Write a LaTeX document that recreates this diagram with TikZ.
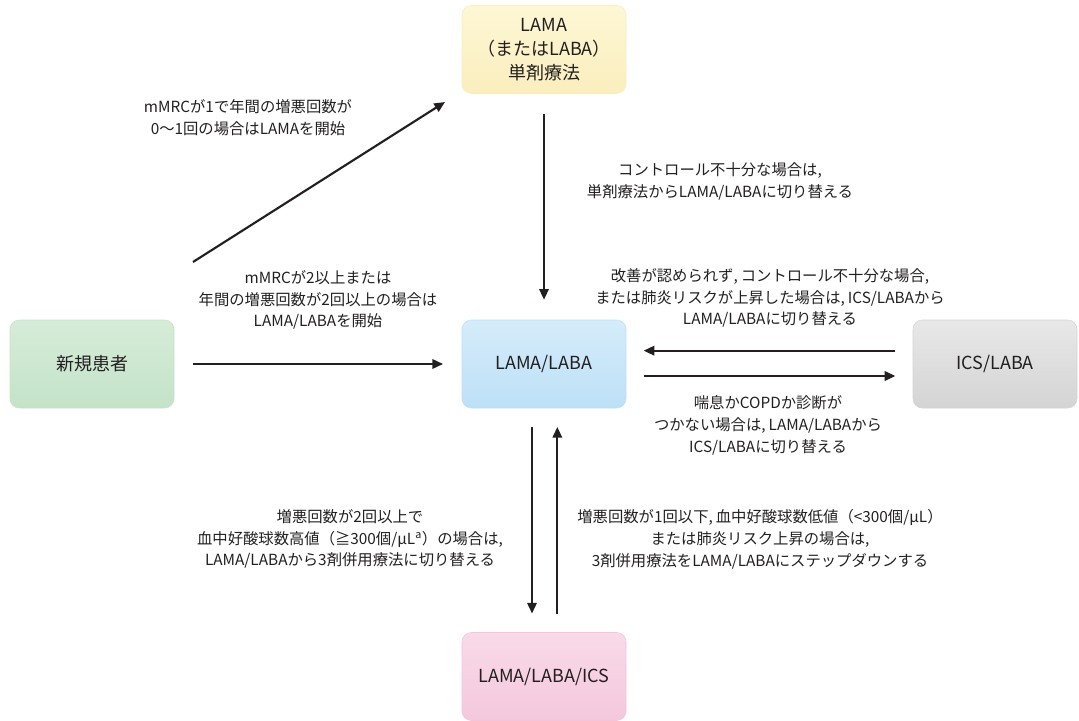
\documentclass[tikz,border=0pt]{standalone}
\usepackage{fontspec}
\setmainfont{Noto Sans CJK JP}
\usetikzlibrary{arrows.meta}
\definecolor{ink}{HTML}{231F20}
\newcommand{\cm}{,\hspace{0.2em}}
\tikzset{
  box/.style={rounded corners=7pt, minimum width=123pt, minimum height=66pt, inner sep=0pt, align=center, font=\fontsize{13.5}{18}\selectfont, text=ink},
  lbl/.style={align=center, font=\fontsize{11.5}{16.4}\selectfont, text=ink, inner sep=0pt},
  arr/.style={-{Triangle[length=8pt,width=7pt]}, line width=1.6pt, draw=ink},
}
\begin{document}
\begin{tikzpicture}[x=0.75pt,y=-0.75pt]
\useasboundingbox (0,0) rectangle (1079,721);
% boxes
\node[box, draw={rgb,255:red,249;green,236;blue,190}, top color={rgb,255:red,253;green,247;blue,212}, bottom color={rgb,255:red,251;green,238;blue,190}] (mono) at (544,49.5) {LAMA\\（またはLABA）\\単剤療法};
\node[box, draw={rgb,255:red,196;green,226;blue,200}, top color={rgb,255:red,214;green,236;blue,216}, bottom color={rgb,255:red,196;green,227;blue,201}] (new) at (92,364) {新規患者};
\node[box, draw={rgb,255:red,190;green,223;blue,245}, top color={rgb,255:red,213;green,236;blue,250}, bottom color={rgb,255:red,189;green,224;blue,247}] (ll) at (544,364) {LAMA/LABA};
\node[box, draw={rgb,255:red,212;green,212;blue,212}, top color={rgb,255:red,232;green,232;blue,232}, bottom color={rgb,255:red,212;green,212;blue,212}] (ics) at (995,364) {ICS/LABA};
\node[box, draw={rgb,255:red,243;green,196;blue,218}, top color={rgb,255:red,249;green,218;blue,232}, bottom color={rgb,255:red,244;green,200;blue,221}] (tri) at (544,676.5) {LAMA/LABA/ICS};
% arrows
\coordinate (d1) at (193,262); \coordinate (d2) at (445,102);
\draw[arr] (d1) -- (d2);
\draw[arr] ([xshift=14]new.east) -- ([xshift=-14]ll.west);
\draw[arr] ([yshift=-15]mono.south) -- ([yshift=15]ll.north);
\draw[arr] ([xshift=-13,yshift=10]ics.west) -- ([xshift=13,yshift=10]ll.east);
\draw[arr] ([xshift=13,yshift=-9]ll.east) -- ([xshift=-13,yshift=-9]ics.west);
\draw[arr] ([xshift=-9,yshift=-14]ll.south) -- ([xshift=-9,yshift=14]tri.north);
\draw[arr] ([xshift=10,yshift=14]tri.north) -- ([xshift=10,yshift=-14]ll.south);
% labels
\node[lbl] (t1) at (248,118) {mMRCが1で年間の増悪回数が\\0〜1回の場合はLAMAを開始};
\node[lbl] (t2) at (318,300) {mMRCが2以上または\\年間の増悪回数が2回以上の場合は\\LAMA/LABAを開始};
\node[lbl] (t3) at (720,181.5) {コントロール不十分な場合は\cm\\単剤療法からLAMA/LABAに切り替える};
\node[lbl] (t4) at (770,298) {改善が認められず\cm コントロール不十分な場合\cm\\または肺炎リスクが上昇した場合は\cm ICS/LABAから\\LAMA/LABAに切り替える};
\node[lbl] (t5) at (768,425) {喘息かCOPDか診断が\\つかない場合は\cm LAMA/LABAから\\ICS/LABAに切り替える};
\node[lbl] (t6) at (350,539) {増悪回数が2回以上で\\血中好酸球数高値（≧300個/μL\textsuperscript{a}）の場合は\cm\\LAMA/LABAから3剤併用療法に切り替える};
\node[lbl] (t7) at (760,539) {増悪回数が1回以下\cm 血中好酸球数低値（<300個/μL）\\または肺炎リスク上昇の場合は\cm\\3剤併用療法をLAMA/LABAにステップダウンする};
\end{tikzpicture}
\end{document}
